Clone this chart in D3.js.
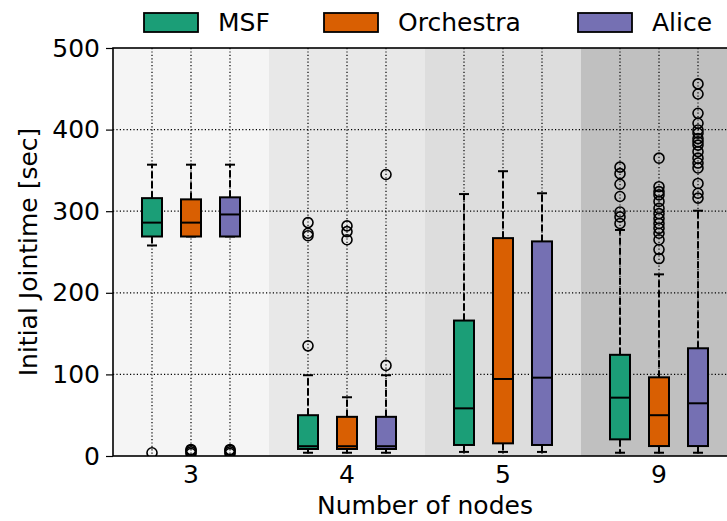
<!DOCTYPE html>
<html>
<head>
<meta charset="utf-8">
<script src="https://cdn.jsdelivr.net/npm/d3@7"></script>
<style>
  body { margin: 0; background: #fff; }
  text { font-family: "DejaVu Sans", sans-serif; fill: #000; }
</style>
</head>
<body>
<svg id="chart" width="727" height="521"></svg>
<script>
// ---- data ----
const groups = ["3", "4", "5", "9"];
const series = ["MSF", "Orchestra", "Alice"];
const seriesColors = ["#1b9e77", "#d95f02", "#7570b3"];
const bandColors = ["#f5f5f5", "#e8e8e8", "#dddddd", "#c0c0c0"];
const yTicks = [0, 100, 200, 300, 400, 500];

// [group][series]
const whiskerLow  = [[258, 269, 269], [4, 4, 4], [5, 5, 5], [4, 4, 4]];
const q1          = [[269, 269, 269], [8.6, 8.6, 8.6], [13.5, 15.5, 13.5], [20.4, 12.2, 12.2]];
const median      = [[286, 286, 296], [12, 12, 12], [58.4, 94.4, 96], [71.5, 50, 64.6]];
const q3          = [[316, 314.5, 317], [50, 48, 48], [166, 267, 263], [124, 96.4, 132]];
const whiskerHigh = [[357, 357, 357], [99, 72, 99], [321, 349, 322], [277, 222.6, 300.6]];
const outliers = [
  [[4], [3, 5, 7, 8], [3, 5, 7, 8]],
  [[286, 273, 270, 135], [282, 275, 265], [345, 111]],
  [[], [], []],
  [[354, 346, 333, 318, 299, 293, 285],
   [365, 330, 324, 320, 312, 303.5, 297, 291, 285, 279, 273, 265, 253, 242],
   [456, 443.6, 420, 407.7, 399.5, 395.5, 389, 385, 381, 373, 365, 359, 353, 334, 322, 316]]
];

// ---- layout ----
const svg = d3.select("#chart");
const mLeft = 113, mRight = 737, mTop = 48, mBottom = 456;
const fs = 25;

const x = d3.scaleBand().domain(groups).range([mLeft, mRight]).padding(0);
const xs = d3.scalePoint().domain(series).range([x.bandwidth() * 0.25, x.bandwidth() * 0.75]);
const y = d3.scaleLinear().domain([0, 500]).range([mBottom, mTop]);
const boxW = 20, capW = 10;

svg.append("defs").append("clipPath").attr("id", "plotclip")
  .append("rect").attr("x", mLeft).attr("y", mTop).attr("width", mRight - mLeft).attr("height", mBottom - mTop);

const plot = svg.append("g").attr("clip-path", "url(#plotclip)");

// background bands
plot.selectAll("rect.band").data(groups).join("rect")
  .attr("class", "band")
  .attr("x", d => x(d)).attr("y", mTop)
  .attr("width", x.bandwidth()).attr("height", mBottom - mTop)
  .attr("fill", (d, i) => bandColors[i]);

// grid: horizontal
plot.selectAll("line.hgrid").data(yTicks.filter(t => t > 0 && t < 500)).join("line")
  .attr("class", "hgrid")
  .attr("x1", mLeft).attr("x2", mRight)
  .attr("y1", d => y(d)).attr("y2", d => y(d))
  .attr("stroke", "#000").attr("stroke-width", 1.2).attr("stroke-dasharray", "1.2,2.2");

// grid: vertical at each box
const boxPositions = [];
groups.forEach((g, gi) => series.forEach((s, si) => boxPositions.push({gi, si, cx: x(g) + xs(s)})));
plot.selectAll("line.vgrid").data(boxPositions).join("line")
  .attr("class", "vgrid")
  .attr("x1", d => d.cx).attr("x2", d => d.cx)
  .attr("y1", mTop).attr("y2", mBottom)
  .attr("stroke", "#000").attr("stroke-width", 1.2).attr("stroke-dasharray", "1.2,2.2");

// boxes
const bx = plot.selectAll("g.box").data(boxPositions).join("g").attr("class", "box");

// whiskers (dashed)
bx.append("line")
  .attr("x1", d => d.cx).attr("x2", d => d.cx)
  .attr("y1", d => y(q3[d.gi][d.si])).attr("y2", d => y(whiskerHigh[d.gi][d.si]))
  .attr("stroke", "#000").attr("stroke-width", 2).attr("stroke-dasharray", "7,3");
bx.append("line")
  .attr("x1", d => d.cx).attr("x2", d => d.cx)
  .attr("y1", d => y(q1[d.gi][d.si])).attr("y2", d => y(whiskerLow[d.gi][d.si]))
  .attr("stroke", "#000").attr("stroke-width", 2).attr("stroke-dasharray", "7,3");
// caps
bx.append("line")
  .attr("x1", d => d.cx - capW / 2).attr("x2", d => d.cx + capW / 2)
  .attr("y1", d => y(whiskerHigh[d.gi][d.si])).attr("y2", d => y(whiskerHigh[d.gi][d.si]))
  .attr("stroke", "#000").attr("stroke-width", 2);
bx.append("line")
  .attr("x1", d => d.cx - capW / 2).attr("x2", d => d.cx + capW / 2)
  .attr("y1", d => y(whiskerLow[d.gi][d.si])).attr("y2", d => y(whiskerLow[d.gi][d.si]))
  .attr("stroke", "#000").attr("stroke-width", 2);
// box
bx.append("rect")
  .attr("x", d => d.cx - boxW / 2).attr("width", boxW)
  .attr("y", d => y(q3[d.gi][d.si]))
  .attr("height", d => y(q1[d.gi][d.si]) - y(q3[d.gi][d.si]))
  .attr("fill", d => seriesColors[d.si])
  .attr("stroke", "#000").attr("stroke-width", 2);
// median
bx.append("line")
  .attr("x1", d => d.cx - boxW / 2).attr("x2", d => d.cx + boxW / 2)
  .attr("y1", d => y(median[d.gi][d.si])).attr("y2", d => y(median[d.gi][d.si]))
  .attr("stroke", "#000").attr("stroke-width", 2);
// outliers
bx.selectAll("circle").data(d => outliers[d.gi][d.si].map(v => ({cx: d.cx, v}))).join("circle")
  .attr("cx", d => d.cx).attr("cy", d => y(d.v)).attr("r", 5)
  .attr("fill", "none").attr("stroke", "#000").attr("stroke-width", 1.6);

// axes
const yAxis = d3.axisLeft(y).tickValues(yTicks).tickSize(7).tickPadding(6);
const ya = svg.append("g").attr("transform", `translate(${mLeft},0)`).call(yAxis);
ya.select(".domain").remove();
ya.selectAll("line").attr("stroke", "#000").attr("stroke-width", 1.2);
ya.selectAll("text").attr("font-size", fs).attr("font-family", "DejaVu Sans, sans-serif");

const xAxis = d3.axisBottom(x).tickSize(0).tickPadding(9);
const xa = svg.append("g").attr("transform", `translate(0,${mBottom})`).call(xAxis);
xa.select(".domain").remove();
xa.selectAll("text").attr("font-size", fs).attr("font-family", "DejaVu Sans, sans-serif");

// spines
svg.append("rect").attr("x", mLeft).attr("y", mTop).attr("width", mRight - mLeft).attr("height", mBottom - mTop)
  .attr("fill", "none").attr("stroke", "#000").attr("stroke-width", 1.6);

// axis titles
svg.append("text").attr("x", (mLeft + mRight) / 2).attr("y", 514)
  .attr("text-anchor", "middle").attr("font-size", fs).text("Number of nodes");
svg.append("text").attr("transform", `translate(37,${(mTop + mBottom) / 2}) rotate(-90)`)
  .attr("text-anchor", "middle").attr("font-size", fs).text("Initial Jointime [sec]");

// legend
const legendX = [144, 324, 578];
const lg = svg.selectAll("g.legend").data(series).join("g").attr("class", "legend")
  .attr("transform", (d, i) => `translate(${legendX[i]},13)`);
lg.append("rect").attr("width", 54).attr("height", 19)
  .attr("fill", (d, i) => seriesColors[i]).attr("stroke", "#000").attr("stroke-width", 1.8);
lg.append("text").attr("x", 74).attr("y", 18).attr("font-size", fs).text(d => d);
</script>
</body>
</html>
